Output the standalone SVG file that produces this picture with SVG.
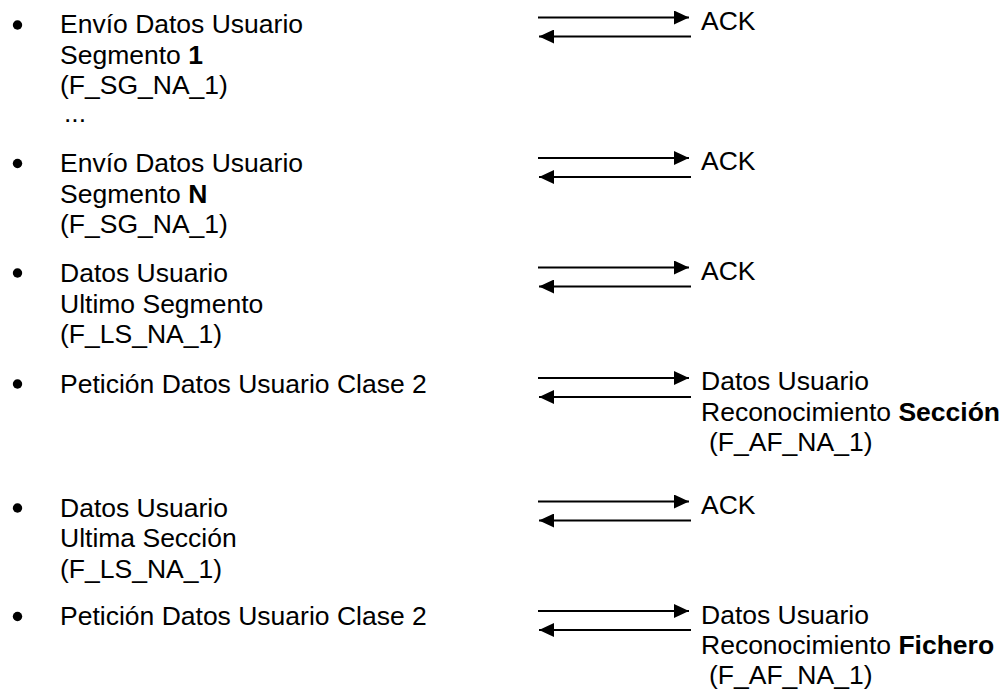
<svg xmlns="http://www.w3.org/2000/svg" width="1006" height="693" viewBox="0 0 1006 693">
<style>
text{font-family:"Liberation Sans",Arial,sans-serif;font-size:26.5px;fill:#000}
.b{font-weight:bold}
.bul{fill:#000}
.arr{stroke:#000;stroke-width:2;fill:none;marker-end:url(#ah)}
</style>
<defs>
<marker id="ah" viewBox="0 0 15 14" refX="15" refY="7" markerWidth="15" markerHeight="14" markerUnits="userSpaceOnUse" orient="auto">
<path d="M0,0 L15,7 L0,14 Z" fill="#000"/>
</marker>
</defs>
<rect width="1006" height="693" fill="#fff"/>
<g id="item1">
<circle class="bul" cx="17.5" cy="25" r="4.7"/>
<text x="60" y="33">Envío Datos Usuario</text>
<text x="60" y="63.5">Segmento <tspan class="b">1</tspan></text>
<text x="60" y="94">(F_SG_NA_1)</text>
<text x="64" y="122">...</text>
</g>
<g id="item2">
<circle class="bul" cx="17.5" cy="163.5" r="4.7"/>
<text x="60" y="171.5">Envío Datos Usuario</text>
<text x="60" y="202.5">Segmento <tspan class="b">N</tspan></text>
<text x="60" y="233">(F_SG_NA_1)</text>
</g>
<g id="item3">
<circle class="bul" cx="17.5" cy="273" r="4.7"/>
<text x="60" y="281.5">Datos Usuario</text>
<text x="60" y="312.5">Ultimo Segmento</text>
<text x="60" y="343">(F_LS_NA_1)</text>
</g>
<g id="item4">
<circle class="bul" cx="17.5" cy="384" r="4.7"/>
<text x="60" y="392.5">Petición Datos Usuario Clase 2</text>
</g>
<g id="item5">
<circle class="bul" cx="17.5" cy="508" r="4.7"/>
<text x="60" y="516.5">Datos Usuario</text>
<text x="60" y="547">Ultima Sección</text>
<text x="60" y="578">(F_LS_NA_1)</text>
</g>
<g id="item6">
<circle class="bul" cx="17.5" cy="616.5" r="4.7"/>
<text x="60" y="625">Petición Datos Usuario Clase 2</text>
</g>
<g id="resp1"><text x="701" y="29.5">ACK</text></g>
<g id="resp2"><text x="701" y="170">ACK</text></g>
<g id="resp3"><text x="701" y="280">ACK</text></g>
<g id="resp4">
<text x="701" y="390">Datos Usuario</text>
<text x="701" y="420.5">Reconocimiento <tspan class="b">Sección</tspan></text>
<text x="709" y="451">(F_AF_NA_1)</text>
</g>
<g id="resp5"><text x="701" y="513.5">ACK</text></g>
<g id="resp6">
<text x="701" y="624">Datos Usuario</text>
<text x="701" y="653.5">Reconocimiento <tspan class="b">Fichero</tspan></text>
<text x="709" y="684">(F_AF_NA_1)</text>
</g>
<g id="connectors">
<line class="arr" x1="538" y1="17.5" x2="689" y2="17.5"/>
<line class="arr" x1="691" y1="36.5" x2="539" y2="36.5"/>
<line class="arr" x1="538" y1="158" x2="689" y2="158"/>
<line class="arr" x1="691" y1="177" x2="539" y2="177"/>
<line class="arr" x1="538" y1="267.5" x2="689" y2="267.5"/>
<line class="arr" x1="691" y1="286.5" x2="539" y2="286.5"/>
<line class="arr" x1="538" y1="378" x2="689" y2="378"/>
<line class="arr" x1="691" y1="397" x2="539" y2="397"/>
<line class="arr" x1="538" y1="501.5" x2="689" y2="501.5"/>
<line class="arr" x1="691" y1="520.5" x2="539" y2="520.5"/>
<line class="arr" x1="538" y1="611" x2="689" y2="611"/>
<line class="arr" x1="691" y1="630" x2="539" y2="630"/>
</g>
</svg>
